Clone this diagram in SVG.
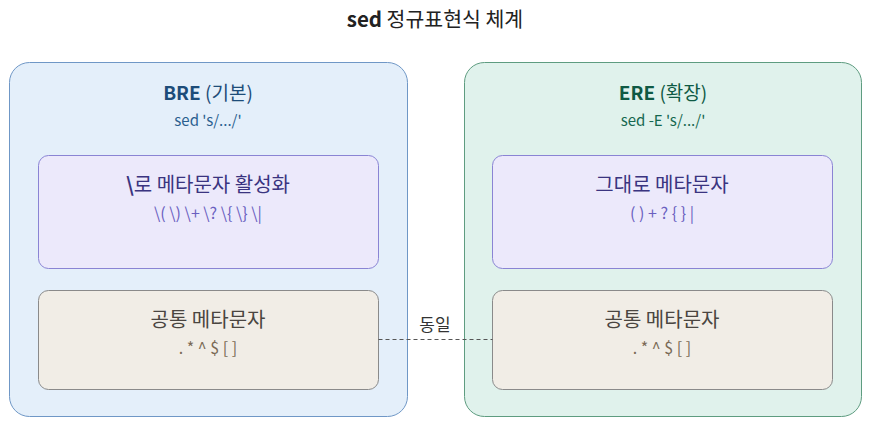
<svg xmlns="http://www.w3.org/2000/svg" width="873" height="436" viewBox="0 0 873 436">
<style>
text{font-family:"Noto Sans CJK KR","Noto Sans",sans-serif;text-anchor:middle}
.title{font-size:20.5px;fill:#222}
.grpT{font-size:19px;font-weight:bold}
.grpS{font-size:15px}
.nT{font-size:20px}
.nC{font-size:16px}
.purple .box{fill:#ece9fb;stroke:#8a84d4;stroke-width:1}
.purple .nT{fill:#3a3480}
.purple .nC{fill:#6a5fc0}
.beige .box{fill:#f1ede6;stroke:#8a8a8a;stroke-width:1}
.beige .nT{fill:#4a4540}
.beige .nC{fill:#7a6a55}
</style>
<rect width="873" height="436" fill="#fff"/>
<text class="title" x="435" y="27"><tspan font-weight="bold">sed</tspan> 정규표현식 체계</text>
<g id="bre">
<rect x="9.5" y="62.5" width="398" height="354" rx="20" fill="#e4effa" stroke="#6f97c6"/>
<text class="grpT" x="208" y="100" fill="#1d4c79">BRE <tspan font-weight="normal">(기본)</tspan></text>
<text class="grpS" x="208" y="126" fill="#2a5f8f">sed 's/.../'</text>
</g>
<g id="ere">
<rect x="464.5" y="62.5" width="397" height="354" rx="20" fill="#e0f2ec" stroke="#5e9c80"/>
<text class="grpT" x="663" y="100" fill="#0f5a44">ERE <tspan font-weight="normal">(확장)</tspan></text>
<text class="grpS" x="663" y="126" fill="#16674f">sed -E 's/.../'</text>
</g>
<g id="bre-meta" class="purple">
<rect class="box" x="38.5" y="155.5" width="340" height="113" rx="10"/>
<text class="nT" x="208" y="192"><tspan font-weight="bold">\</tspan>로 메타문자 활성화</text>
<text class="nC" x="208" y="219">\( \) \+ \? \{ \} \|</text>
</g>
<g id="ere-meta" class="purple">
<rect class="box" x="492.5" y="155.5" width="340" height="113" rx="10"/>
<text class="nT" x="662" y="192">그대로 메타문자</text>
<text class="nC" x="662" y="219">( ) + ? { } |</text>
</g>
<g id="bre-common" class="beige">
<rect class="box" x="38.5" y="290.5" width="340" height="99" rx="10"/>
<text class="nT" x="208" y="327">공통 메타문자</text>
<text class="nC" x="208" y="354">. * ^ $ [ ]</text>
</g>
<g id="ere-common" class="beige">
<rect class="box" x="492.5" y="290.5" width="340" height="99" rx="10"/>
<text class="nT" x="662" y="327">공통 메타문자</text>
<text class="nC" x="662" y="354">. * ^ $ [ ]</text>
</g>
<g id="connectors">
<line x1="378.5" y1="339.5" x2="492.5" y2="339.5" stroke="#555" stroke-width="1" stroke-dasharray="4 3"/>
<text x="435" y="331" font-size="17" fill="#333">동일</text>
</g>
</svg>
